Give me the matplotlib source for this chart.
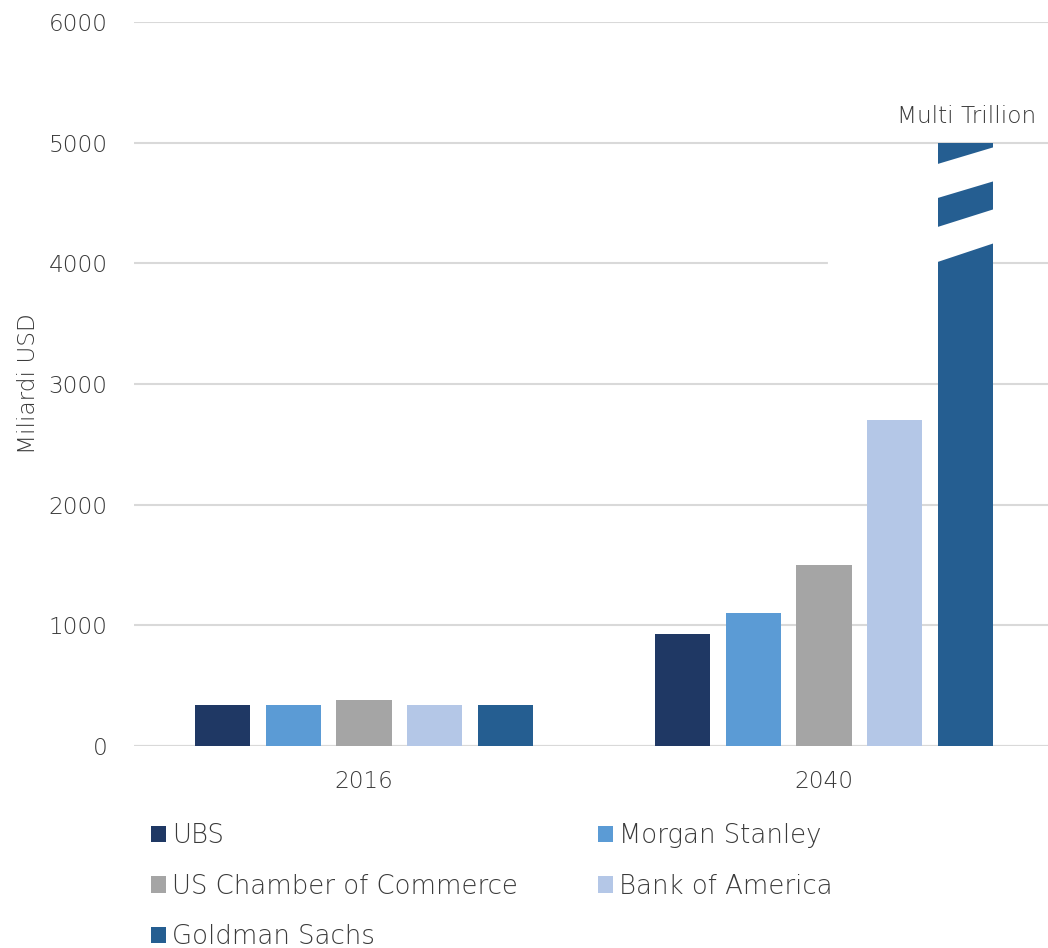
import matplotlib
matplotlib.use("Agg")
import matplotlib.pyplot as plt
from matplotlib.patches import Polygon, Patch
import numpy as np

categories = ["2016", "2040"]
series = ["UBS", "Morgan Stanley", "US Chamber of Commerce", "Bank of America", "Goldman Sachs"]
ubs = [340, 930]
morgan_stanley = [340, 1100]
us_chamber = [380, 1500]
bank_of_america = [340, 2700]
goldman_sachs = [340, 5000]
yticks = [0, 1000, 2000, 3000, 4000, 5000, 6000]
colors = ["#1F3864", "#5B9BD5", "#A5A5A5", "#B4C7E7", "#255E91"]

values = [ubs, morgan_stanley, us_chamber, bank_of_america, goldman_sachs]

plt.rcParams['font.family'] = ['DejaVu Sans']
plt.rcParams['font.weight'] = 'light'
plt.rcParams['axes.labelweight'] = 'light'
txt = "#3A3A3A"
fs = 16.7
lfs = 18.7

fig = plt.figure(figsize=(10.48, 9.48), dpi=100)
ax = fig.add_axes([134/1048, (948-746)/948, (1054-134)/1048, 724/948])

x = np.arange(len(categories))
step = 0.1543
width = 0.1196
offsets = (np.arange(len(series)) - 2) * step
for i, (name, vals) in enumerate(zip(series, values)):
    ax.bar(x + offsets[i], vals, width=width, color=colors[i], zorder=3, label=name)

ax.set_xlim(-0.5, 1.5)
ax.set_ylim(0, 6000)
ax.set_yticks(yticks)
ax.set_xticks(x)
ax.set_xticklabels(categories)
ax.grid(axis='y', color='#D9D9D9', linewidth=1.5, zorder=0)
ax.set_axisbelow(True)
for s in ax.spines.values():
    s.set_visible(False)
ax.axhline(0, color='#D9D9D9', linewidth=1.5, zorder=2)
ax.tick_params(axis='both', length=0, labelsize=fs, labelcolor=txt)
ax.tick_params(axis='y', pad=19)
ax.tick_params(axis='x', pad=17)
ax.set_ylabel("Miliardi USD", fontsize=fs, color=txt, fontweight='light', va='center')
ax.yaxis.set_label_coords(-0.115, 0.5)

# break marks on the Goldman Sachs 2040 bar
gx = x[1] + offsets[4]
xl, xr = gx - width/2 - 0.002, gx + width/2 + 0.002
bands = [((4823, 4541), (4964, 4682)), ((4301, 4011), (4450, 4168))]
for (lt, lb), (rt, rb) in bands:
    ax.add_patch(Polygon([(xl, lt), (xr, rt), (xr, rb), (xl, lb)], closed=True,
                         facecolor='white', edgecolor='none', zorder=4))
ax.plot([1.013, xl], [4000, 4000], color='white', linewidth=3, zorder=2.5)
ax.text(gx + width/2 + 0.092, 5120, "Multi Trillion", ha='right', va='bottom',
        fontsize=fs, color=txt, zorder=5)

handles = [Patch(facecolor=c, edgecolor='none') for c in colors]
order = [0, 2, 4, 1, 3]
fig.legend([handles[i] for i in order], [series[i] for i in order], ncol=2,
           loc='upper left', bbox_to_anchor=(138/1048, 1 - 810/948), frameon=False,
           fontsize=lfs, labelcolor=txt, handlelength=0.58, handleheight=0.58,
           handletextpad=0.22, columnspacing=3.1, labelspacing=0.99, borderpad=0)

fig.savefig("out.png", dpi=100)
